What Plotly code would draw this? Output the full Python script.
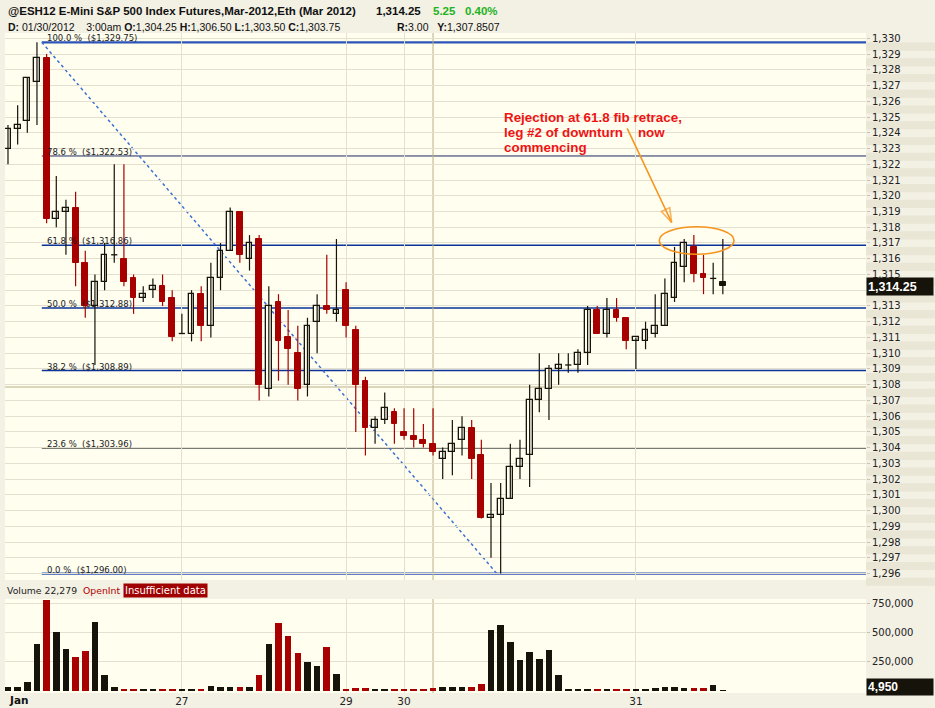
import plotly.graph_objects as go

# ---------------- data ----------------
day_blocks = [("01/26/2012", 6, 18), ("01/27/2012", 0, 17), ("01/29/2012", 18, 6),
              ("01/30/2012", 0, 24), ("01/31/2012", 0, 10)]
bar_day, bar_hour = [], []
for d, h0, n in day_blocks:
    for k in range(n):
        bar_day.append(d)
        bar_hour.append(h0 + k)

opens = [1323.00, 1324.25, 1324.75, 1327.25, 1328.75, 1318.50, 1319.00, 1319.25, 1315.75, 1313.00,
         1314.50, 1316.25, 1316.00, 1314.75, 1313.50, 1314.00, 1314.25, 1313.50, 1311.25, 1311.25,
         1313.75, 1311.75, 1314.75, 1316.50, 1319.00, 1316.00, 1317.25, 1307.75, 1313.25, 1311.00,
         1310.00, 1308.00, 1312.00, 1313.00, 1312.50, 1314.00, 1311.50, 1308.25, 1305.25, 1305.75,
         1306.25, 1305.00, 1304.75, 1304.50, 1304.25, 1303.25, 1303.75, 1304.50, 1305.25, 1303.50,
         1299.50, 1299.75, 1300.75, 1302.75, 1303.50, 1307.00, 1307.75, 1309.00, 1309.25, 1309.25,
         1310.00, 1312.75, 1311.25, 1312.75, 1312.25, 1310.75, 1310.75, 1311.25, 1311.75, 1313.50,
         1315.50, 1316.75, 1315.00, 1314.75, 1314.50]
highs = [1324.50, 1325.75, 1327.50, 1329.75, 1329.00, 1321.25, 1319.75, 1320.25, 1316.50, 1315.00,
         1317.00, 1322.00, 1322.00, 1315.00, 1314.25, 1314.75, 1315.00, 1314.00, 1312.50, 1314.00,
         1314.25, 1315.75, 1317.00, 1319.25, 1319.00, 1317.50, 1317.50, 1314.25, 1313.75, 1312.75,
         1311.75, 1312.25, 1313.75, 1316.25, 1317.25, 1314.50, 1311.75, 1308.50, 1306.00, 1307.50,
         1306.50, 1306.50, 1306.50, 1305.50, 1306.50, 1304.00, 1305.75, 1306.00, 1305.75, 1304.50,
         1301.75, 1301.75, 1304.25, 1304.50, 1308.00, 1310.00, 1309.25, 1310.00, 1310.00, 1310.25,
         1313.00, 1313.00, 1313.50, 1313.50, 1312.25, 1311.00, 1312.00, 1313.75, 1314.75, 1316.75,
         1317.25, 1317.50, 1316.25, 1315.75, 1317.25]
lows = [1322.00, 1323.25, 1324.00, 1324.50, 1318.25, 1318.00, 1316.25, 1314.25, 1312.25, 1309.25,
        1314.00, 1315.75, 1314.25, 1312.50, 1313.25, 1313.50, 1313.00, 1310.75, 1311.25, 1310.75,
        1310.75, 1311.00, 1314.00, 1316.50, 1315.75, 1315.25, 1307.00, 1307.25, 1308.25, 1308.00,
        1307.00, 1307.25, 1310.00, 1312.50, 1312.00, 1311.00, 1305.00, 1303.50, 1304.25, 1305.50,
        1304.25, 1304.50, 1304.00, 1304.00, 1303.50, 1302.00, 1302.25, 1303.50, 1302.00, 1299.50,
        1297.00, 1296.00, 1300.75, 1302.00, 1301.50, 1306.25, 1305.75, 1308.00, 1308.75, 1308.75,
        1309.25, 1311.25, 1311.00, 1312.00, 1310.25, 1309.00, 1310.25, 1311.00, 1311.75, 1313.25,
        1314.50, 1314.50, 1313.75, 1313.75, 1313.75]
closes = [1324.25, 1324.50, 1327.50, 1328.75, 1318.50, 1319.00, 1319.25, 1315.75, 1313.00, 1314.50,
          1316.25, 1316.25, 1314.50, 1313.50, 1313.75, 1314.25, 1313.25, 1311.00, 1311.25, 1313.75,
          1311.75, 1314.75, 1316.50, 1319.00, 1316.25, 1317.00, 1308.00, 1313.00, 1310.75, 1310.25,
          1307.75, 1311.75, 1313.00, 1312.75, 1312.75, 1311.75, 1308.00, 1305.25, 1305.75, 1306.50,
          1305.50, 1304.75, 1304.50, 1304.25, 1303.75, 1303.75, 1304.25, 1305.25, 1303.25, 1299.50,
          1299.75, 1300.75, 1302.75, 1303.25, 1307.00, 1307.75, 1309.00, 1309.25, 1309.25, 1310.00,
          1312.75, 1311.25, 1312.75, 1312.25, 1310.75, 1311.00, 1311.50, 1311.75, 1313.75, 1315.75,
          1317.00, 1315.00, 1314.75, 1314.75, 1314.25]
volumes = [30000, 30000, 75000, 400000, 780000, 505000, 360000, 290000, 340000, 590000,
           135000, 30000, 15000, 15000, 15000, 15000, 15000, 15000, 15000, 15000,
           15000, 40000, 30000, 30000, 30000, 30000, 135000, 400000, 585000, 470000,
           325000, 250000, 212000, 375000, 145000, 15000, 23000, 23000, 15000, 15000,
           15000, 15000, 15000, 15000, 22279, 30000, 30000, 30000, 35000, 60000,
           517000, 560000, 414000, 267000, 328000, 276000, 345000, 138000, 12000, 12000,
           12000, 12000, 12000, 12000, 12000, 12000, 15000, 20000, 35000, 35000,
           20000, 26000, 26000, 52000, 4950]

fib_high = 1329.75
fib_low = 1296.00
fib_ratios = [1.0, 0.786, 0.618, 0.5, 0.382, 0.236, 0.0]
fib_colors = ["#2C55B8", "#1E2C66", "#0B3399", "#0B3399", "#0B3399", "#3A3A3A", "#2C55B8"]
fib_widths = [2.2, 1, 1.5, 1.5, 1.5, 1, 2.2]
cross_bar = 44
cross_price = 1307.8507
vol_ticks = [250000, 500000, 750000]
comment_lines = ["Rejection at 61.8 fib retrace,", "leg #2 of downturn\u00a0\u00a0\u00a0\u00a0now", "commencing"]

# ---------------- style ----------------
RED = "#A80000"
BLACK = "#15130A"
BG = "#FFFEEF"
PAPER = "#F3F0E4"
GRID = "#E4E0CF"
TAN = "#B9AD88"
FONT = "DejaVu Sans"

n = len(opens)
idx = list(range(n))
last = n - 1
X_MIN, X_MAX = -0.31, 88.82
Y_MIN, Y_MAX = 1295.59, 1330.34
V_MIN, V_MAX = -19700, 786900

fig = go.Figure()

# wicks
for col, cond in [(BLACK, lambda i: closes[i] >= opens[i] or i == last),
                  (RED, lambda i: closes[i] < opens[i] and i != last)]:
    wx, wy = [], []
    for i in idx:
        if cond(i):
            wx += [i, i, None]
            wy += [lows[i], highs[i], None]
    fig.add_trace(go.Scatter(x=wx, y=wy, mode="lines", line=dict(color=col, width=1.2),
                             hoverinfo="skip", showlegend=False))

# bodies
up = [i for i in idx if closes[i] > opens[i] and i != last]
dn = [i for i in idx if closes[i] < opens[i] and i != last]
fig.add_trace(go.Bar(x=up, base=[opens[i] for i in up], y=[closes[i] - opens[i] for i in up],
                     width=0.6, marker=dict(color=BG, line=dict(color=BLACK, width=1.3)),
                     showlegend=False, hoverinfo="skip"))
fig.add_trace(go.Bar(x=dn, base=[closes[i] for i in dn], y=[opens[i] - closes[i] for i in dn],
                     width=0.6, marker=dict(color=RED, line=dict(color=RED, width=1)),
                     showlegend=False, hoverinfo="skip"))
fig.add_trace(go.Bar(x=[last], base=[min(opens[last], closes[last])],
                     y=[abs(opens[last] - closes[last])],
                     width=0.6, marker=dict(color=BLACK, line=dict(color=BLACK, width=1)),
                     showlegend=False, hoverinfo="skip"))
# doji ticks
dx, dy = [], []
for i in idx:
    if closes[i] == opens[i]:
        dx += [i - 0.32, i + 0.32, None]
        dy += [opens[i], opens[i], None]
fig.add_trace(go.Scatter(x=dx, y=dy, mode="lines", line=dict(color=BLACK, width=1.3),
                         hoverinfo="skip", showlegend=False))

# volume
vcol = [RED if (closes[i] < opens[i] and i != last) else BLACK for i in idx]
fig.add_trace(go.Bar(x=idx, y=volumes, width=0.68, marker=dict(color=vcol, line=dict(width=0)),
                     yaxis="y2", showlegend=False, hoverinfo="skip"))

# orange arrow (annotation)
arr_x = [64.1, 68.7]
arr_y = [1324.28, 1318.3]
fig.add_trace(go.Scatter(x=arr_x, y=arr_y, mode="lines+markers",
                         line=dict(color="#F7941D", width=1.6),
                         marker=dict(symbol=["circle", "arrow-open"], size=[0, 15],
                                     angleref="previous", color="#F7941D",
                                     line=dict(color="#F7941D", width=1.6)),
                         hoverinfo="skip", showlegend=False))

shapes = []
annotations = []

# fib levels
fib_x0 = highs.index(max(highs)) + 0.5
fib_x1 = lows.index(min(lows)) - 0.4
for r, c, w in zip(fib_ratios, fib_colors, fib_widths):
    lvl = fib_low + r * (fib_high - fib_low)
    shapes.append(dict(type="line", xref="x", yref="y", x0=fib_x0, x1=X_MAX, y0=lvl, y1=lvl,
                       line=dict(color=c, width=w), layer="below"))
    annotations.append(dict(xref="x", yref="y", x=fib_x0 + 0.3, y=lvl, xanchor="left",
                            yanchor="bottom", yshift=-3, showarrow=False,
                            text=f"{r*100:.1f} %\u00a0\u00a0(${lvl:,.2f})",
                            font=dict(family=FONT, size=8.5, color="#1A1A1A")))
shapes.append(dict(type="line", xref="x", yref="y", x0=fib_x0, y0=fib_high, x1=fib_x1, y1=fib_low,
                   line=dict(color="#3C70D6", width=1.5, dash="dot"), layer="below"))

# crosshair
shapes.append(dict(type="line", xref="x", yref="y", x0=X_MIN, x1=X_MAX, y0=cross_price, y1=cross_price,
                   line=dict(color=TAN, width=1), layer="below"))
shapes.append(dict(type="line", xref="x", yref="y", x0=cross_bar, x1=cross_bar, y0=Y_MIN, y1=Y_MAX,
                   line=dict(color=TAN, width=1), layer="below"))
shapes.append(dict(type="line", xref="x", yref="y2", x0=cross_bar, x1=cross_bar, y0=V_MIN, y1=V_MAX,
                   line=dict(color=TAN, width=1), layer="below"))

# orange ellipse
shapes.append(dict(type="circle", xref="x", yref="y", x0=67.42, x1=75.16, y0=1316.28, y1=1318.03,
                   line=dict(color="#F7941D", width=1.6)))

# stripes in right label area
for p in range(1296, 1331):
    shapes.append(dict(type="rect", xref="paper", yref="paper", x0=1.0, x1=1.09,
                       y0=0.1712 + 0.8288 * (p - 0.78 - Y_MIN) / (Y_MAX - Y_MIN),
                       y1=0.1712 + 0.8288 * (p - 0.26 - Y_MIN) / (Y_MAX - Y_MIN),
                       fillcolor="#EAE6D6", line=dict(width=0), layer="below"))


def px(xp):
    return (xp - 5) / 861.0


def py(yp):
    return (693 - yp) / 660.0


hdr = dict(family="Liberation Sans", size=11.5, color="#111")
annotations += [
    dict(xref="paper", yref="paper", x=px(6), y=py(11), xanchor="left", yanchor="middle", showarrow=False,
         text="<b>@ESH12 E-Mini S&amp;P 500 Index Futures,Mar-2012,Eth (Mar 2012)</b>", font=hdr),
    dict(xref="paper", yref="paper", x=px(374), y=py(11), xanchor="left", yanchor="middle", showarrow=False,
         text="<b>1,314.25</b>", font=hdr),
    dict(xref="paper", yref="paper", x=px(431), y=py(11), xanchor="left", yanchor="middle", showarrow=False,
         text="<b>5.25\u00a0\u00a0\u00a00.40%</b>", font=dict(family="Liberation Sans", size=11.5, color="#1DB31D")),
    dict(xref="paper", yref="paper", x=px(6), y=py(27), xanchor="left", yanchor="middle", showarrow=False,
         text="<b>D:</b> 01/30/2012\u00a0\u00a0\u00a0\u00a03:00am <b>O:</b>1,304.25 <b>H:</b>1,306.50 "
              "<b>L:</b>1,303.50 <b>C:</b>1,303.75",
         font=dict(family="Liberation Sans", size=10.5, color="#111")),
    dict(xref="paper", yref="paper", x=px(395), y=py(27), xanchor="left", yanchor="middle", showarrow=False,
         text="<b>R:</b>3.00\u00a0\u00a0\u00a0<b>Y:</b>1,307.8507",
         font=dict(family="Liberation Sans", size=10.5, color="#111")),
    # volume strip
    dict(xref="paper", yref="paper", x=px(5), y=py(590), xanchor="left", yanchor="middle", showarrow=False,
         text="Volume 22,279", font=dict(family=FONT, size=9.3, color="#222")),
    dict(xref="paper", yref="paper", x=px(81), y=py(590), xanchor="left", yanchor="middle", showarrow=False,
         text="OpenInt", font=dict(family=FONT, size=9.3, color="#B00000")),
    dict(xref="paper", yref="paper", x=px(123), y=py(590), xanchor="left", yanchor="middle", showarrow=False,
         text="Insufficient data", bgcolor="#A00000", borderpad=1,
         font=dict(family=FONT, size=10, color="#FFFFFF")),
    # bottom Jan label
    dict(xref="paper", yref="paper", x=px(7), y=py(700), xanchor="left", yanchor="middle", showarrow=False,
         text="<b>Jan</b>", font=dict(family=FONT, size=10.5, color="#111")),
    # last price boxes
    dict(xref="paper", yref="y", x=1.0, y=closes[last], xanchor="left", yanchor="middle", showarrow=False,
         text="<b>1,314.25</b>", bgcolor=BLACK, width=64, height=15, align="left", borderpad=1,
         font=dict(family="Liberation Sans", size=12.5, color="#FFFFFF")),
    dict(xref="paper", yref="y2", x=1.0, y=volumes[last], xanchor="left", yanchor="middle", showarrow=False,
         yshift=3, text="<b>4,950</b>", bgcolor=BLACK, width=64, height=14, align="left", borderpad=1,
         font=dict(family="Liberation Sans", size=12, color="#FFFFFF")),
]
# red comment, one annotation per line
for k, line in enumerate(comment_lines):
    annotations.append(dict(xref="paper", yref="paper", x=px(502), y=py(117 + 15.3 * k), xanchor="left",
                            yanchor="middle", showarrow=False, text=f"<b>{line}</b>",
                            font=dict(family="Liberation Sans", size=13.4, color="#EE1414")))

# day boundary ticks
tick_pos = [i for i in idx if i > 0 and bar_day[i] != bar_day[i - 1]]
tick_txt = [bar_day[i][3:5] for i in tick_pos]

fig.update_layout(
    width=935, height=708,
    margin=dict(l=5, r=69, t=33, b=15, autoexpand=False),
    paper_bgcolor=PAPER, plot_bgcolor=BG,
    showlegend=False, hovermode=False,
    barmode="overlay", bargap=0,
    shapes=shapes, annotations=annotations,
    xaxis=dict(domain=[0, 1], anchor="y2", range=[X_MIN, X_MAX], tickmode="array", automargin=False,
               tickvals=tick_pos, ticktext=tick_txt, showgrid=True, gridcolor=GRID, gridwidth=1,
               zeroline=False, showline=False, ticks="", ticklabelstandoff=0,
               tickfont=dict(family=FONT, size=10.5, color="#222")),
    yaxis=dict(domain=[0.1712, 1], anchor="x", side="right", range=[Y_MIN, Y_MAX], dtick=1, tick0=0,
               automargin=False,
               tickformat=",.0f", showgrid=True, gridcolor=GRID, zeroline=False, ticks="outside",
               ticklen=3, tickcolor="#C9C3AE", tickfont=dict(family=FONT, size=10, color="#222")),
    yaxis2=dict(domain=[0, 0.1424], anchor="x", side="right", range=[V_MIN, V_MAX], tickmode="array",
                automargin=False,
                tickvals=vol_ticks, tickformat=",.0f", showgrid=True, gridcolor=GRID, zeroline=False,
                ticks="outside", ticklen=3, tickcolor="#C9C3AE",
                tickfont=dict(family=FONT, size=10, color="#222")),
)

fig.write_html("out.html", config={"displayModeBar": False},
               post_script="document.body.style.margin='0';document.body.style.padding='0';"
                           "document.body.style.background='" + PAPER + "';")
